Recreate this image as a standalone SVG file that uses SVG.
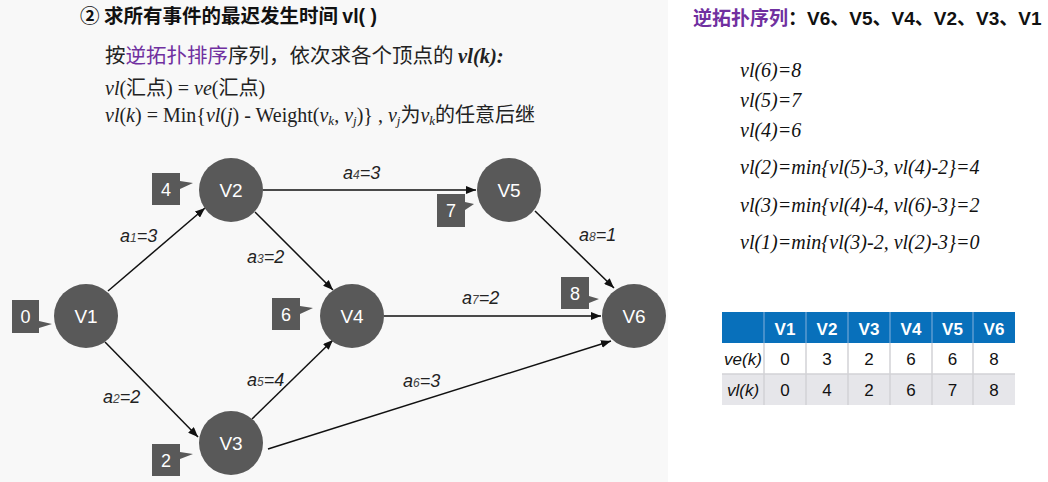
<svg xmlns="http://www.w3.org/2000/svg" width="1048" height="482" viewBox="0 0 1048 482">
<defs>
<style>
.cjk{font-family:"Noto Sans CJK SC","Noto Sans",sans-serif;}
.ser{font-family:"Liberation Serif","Noto Sans CJK SC",serif;}
.ti{font-style:italic;}
.node circle{fill:#595959;}
.node text{font-family:"Liberation Sans",Arial,sans-serif;font-size:19px;fill:#fff;text-anchor:middle;}
.tag path{fill:#595959;}
.tag text{font-family:"Liberation Sans",Arial,sans-serif;font-size:18px;fill:#fff;text-anchor:middle;}
.edge{stroke:#111;stroke-width:1.5;fill:none;marker-end:url(#ah);}
.el{font-family:"Liberation Sans",Arial,sans-serif;font-style:italic;font-size:18px;fill:#222;}
.el .s{font-size:12px;fill:#444;}
.vl{font-family:"Liberation Serif",serif;font-style:italic;font-size:20px;fill:#111;}
.th{font-family:"Liberation Sans",Arial,sans-serif;font-weight:bold;font-size:17px;fill:#fff;text-anchor:middle;}
.td{font-family:"Liberation Sans",Arial,sans-serif;font-size:17px;fill:#111;text-anchor:middle;}
</style>
<marker id="ah" markerWidth="10" markerHeight="8" refX="10" refY="4" orient="auto" markerUnits="userSpaceOnUse">
<path d="M0,0 L10,4 L0,8 z" fill="#111"/>
</marker>
</defs>
<rect x="0" y="0" width="1048" height="482" fill="#fff"/>
<rect x="0" y="0" width="668" height="482" fill="#f8f8f8"/>

<!-- left texts -->
<g id="title">
<text x="80" y="23" class="cjk" font-size="19.5" font-weight="bold" fill="#111">② 求所有事件的最迟发生时间 <tspan font-family="Liberation Sans, Arial, sans-serif">vl( )</tspan></text>
</g>
<g id="rules" fill="#222">
<text x="105" y="63" class="cjk" font-size="20.5">按<tspan fill="#7030a0">逆拓扑排序</tspan>序列，依次求各个顶点的 <tspan class="ser" font-style="italic" font-weight="bold">vl(k):</tspan></text>
<text x="105" y="95" class="ser" font-size="20"><tspan font-style="italic">vl</tspan>(<tspan class="cjk">汇点</tspan>) = <tspan font-style="italic">ve</tspan>(<tspan class="cjk">汇点</tspan>)</text>
<text x="105" y="122" class="ser" font-size="20"><tspan font-style="italic">vl</tspan>(<tspan font-style="italic">k</tspan>) = Min{<tspan font-style="italic">vl</tspan>(<tspan font-style="italic">j</tspan>) - Weight(<tspan font-style="italic">v</tspan><tspan font-style="italic" font-size="13" dy="3">k</tspan><tspan dy="-3">, </tspan><tspan font-style="italic">v</tspan><tspan font-style="italic" font-size="13" dy="3">j</tspan><tspan dy="-3">)} , </tspan><tspan font-style="italic">v</tspan><tspan font-style="italic" font-size="13" dy="3">j</tspan><tspan dy="-3" class="cjk">为</tspan><tspan font-style="italic">v</tspan><tspan font-style="italic" font-size="13" dy="3">k</tspan><tspan dy="-3" class="cjk">的任意后继</tspan></text>
</g>

<!-- connectors -->
<g id="connectors">
<line class="edge" x1="108" y1="291" x2="205" y2="208"/>
<line class="edge" x1="255" y1="212" x2="333" y2="290"/>
<line class="edge" x1="263" y1="190" x2="476" y2="190"/>
<line class="edge" x1="105" y1="342" x2="198" y2="437"/>
<line class="edge" x1="252" y1="419" x2="333" y2="340"/>
<line class="edge" x1="384" y1="316" x2="601" y2="316"/>
<line class="edge" x1="268" y1="449" x2="611" y2="341"/>
<line class="edge" x1="535" y1="211" x2="614" y2="288"/>
</g>
<g id="edge-labels">
<text class="el" x="120" y="242">a<tspan class="s">1</tspan>=3</text>
<text class="el" x="247" y="263">a<tspan class="s">3</tspan>=2</text>
<text class="el" x="343" y="179">a<tspan class="s">4</tspan>=3</text>
<text class="el" x="103" y="403">a<tspan class="s">2</tspan>=2</text>
<text class="el" x="247" y="386">a<tspan class="s">5</tspan>=4</text>
<text class="el" x="403" y="387">a<tspan class="s">6</tspan>=3</text>
<text class="el" x="462" y="304">a<tspan class="s">7</tspan>=2</text>
<text class="el" x="579" y="241">a<tspan class="s">8</tspan>=1</text>
</g>

<!-- nodes -->
<g id="V1" class="node"><circle cx="86" cy="316" r="32"/><text x="86" y="323">V1</text></g>
<g id="V2" class="node"><circle cx="231" cy="190" r="32"/><text x="231" y="197">V2</text></g>
<g id="V3" class="node"><circle cx="231" cy="443" r="32"/><text x="231" y="450">V3</text></g>
<g id="V4" class="node"><circle cx="352" cy="316" r="32"/><text x="352" y="323">V4</text></g>
<g id="V5" class="node"><circle cx="509" cy="190" r="32"/><text x="509" y="197">V5</text></g>
<g id="V6" class="node"><circle cx="634" cy="316" r="32"/><text x="634" y="323">V6</text></g>

<!-- vl tags -->
<g id="tag-V1" class="tag"><path d="M12,300 H39 V321 L52,324 L39,328 V333 H12 Z"/><text x="25.5" y="323">0</text></g>
<g id="tag-V2" class="tag"><path d="M152,173 H180 V181 L193,183 L180,189 V205 H152 Z"/><text x="166" y="196">4</text></g>
<g id="tag-V3" class="tag"><path d="M152,444 H180 V452 L193,454 L180,459 V476 H152 Z"/><text x="166" y="467">2</text></g>
<g id="tag-V4" class="tag"><path d="M272,298 H300 V306 L313,308 L300,314 V330 H272 Z"/><text x="286" y="321">6</text></g>
<g id="tag-V5" class="tag"><path d="M437,194 H465 V202 L474,204 L465,210 V227 H437 Z"/><text x="451" y="217">7</text></g>
<g id="tag-V6" class="tag"><path d="M561,277 H589 V296 L599,299 L589,303 V309 H561 Z"/><text x="575" y="300">8</text></g>

<!-- right side -->
<g id="sequence">
<text x="693" y="25" class="cjk" font-size="19" font-weight="bold" fill="#111"><tspan fill="#7030a0">逆拓扑序列</tspan>：<tspan font-family="Liberation Sans, Arial, sans-serif">V6</tspan>、<tspan font-family="Liberation Sans, Arial, sans-serif">V5</tspan>、<tspan font-family="Liberation Sans, Arial, sans-serif">V4</tspan>、<tspan font-family="Liberation Sans, Arial, sans-serif">V2</tspan>、<tspan font-family="Liberation Sans, Arial, sans-serif">V3</tspan>、<tspan font-family="Liberation Sans, Arial, sans-serif">V1</tspan></text>
</g>
<g id="vl-values" class="vl">
<text x="740" y="77">vl(6)=8</text>
<text x="740" y="107">vl(5)=7</text>
<text x="740" y="137">vl(4)=6</text>
<text x="740" y="174">vl(2)=min{vl(5)-3, vl(4)-2}=4</text>
<text x="740" y="212">vl(3)=min{vl(4)-4, vl(6)-3}=2</text>
<text x="740" y="249">vl(1)=min{vl(3)-2, vl(2)-3}=0</text>
</g>

<g id="table">
<rect x="722" y="312" width="293" height="31" fill="#0870bb"/>
<rect x="722" y="343" width="293" height="31" fill="#fff"/>
<rect x="722" y="374" width="293" height="31" fill="#e6e6ea"/>
<g stroke="#5b9bd0" stroke-width="1.5">
<line x1="764" y1="312" x2="764" y2="343"/><line x1="806" y1="312" x2="806" y2="343"/><line x1="848" y1="312" x2="848" y2="343"/><line x1="890" y1="312" x2="890" y2="343"/><line x1="932" y1="312" x2="932" y2="343"/><line x1="973" y1="312" x2="973" y2="343"/>
</g>
<g stroke="#d2d2d6" stroke-width="1.5">
<line x1="764" y1="343" x2="764" y2="405"/><line x1="806" y1="343" x2="806" y2="405"/><line x1="848" y1="343" x2="848" y2="405"/><line x1="890" y1="343" x2="890" y2="405"/><line x1="932" y1="343" x2="932" y2="405"/><line x1="973" y1="343" x2="973" y2="405"/>
<line x1="722" y1="374" x2="1015" y2="374"/>
</g>
<text class="th" x="785" y="335">V1</text><text class="th" x="827" y="335">V2</text><text class="th" x="869" y="335">V3</text><text class="th" x="911" y="335">V4</text><text class="th" x="952.5" y="335">V5</text><text class="th" x="994" y="335">V6</text>
<text class="td" x="743" y="365" font-style="italic">ve(k)</text>
<text class="td" x="785" y="365">0</text><text class="td" x="827" y="365">3</text><text class="td" x="869" y="365">2</text><text class="td" x="911" y="365">6</text><text class="td" x="952.5" y="365">6</text><text class="td" x="994" y="365">8</text>
<text class="td" x="743" y="396" font-style="italic">vl(k)</text>
<text class="td" x="785" y="396">0</text><text class="td" x="827" y="396">4</text><text class="td" x="869" y="396">2</text><text class="td" x="911" y="396">6</text><text class="td" x="952.5" y="396">7</text><text class="td" x="994" y="396">8</text>
</g>
</svg>
